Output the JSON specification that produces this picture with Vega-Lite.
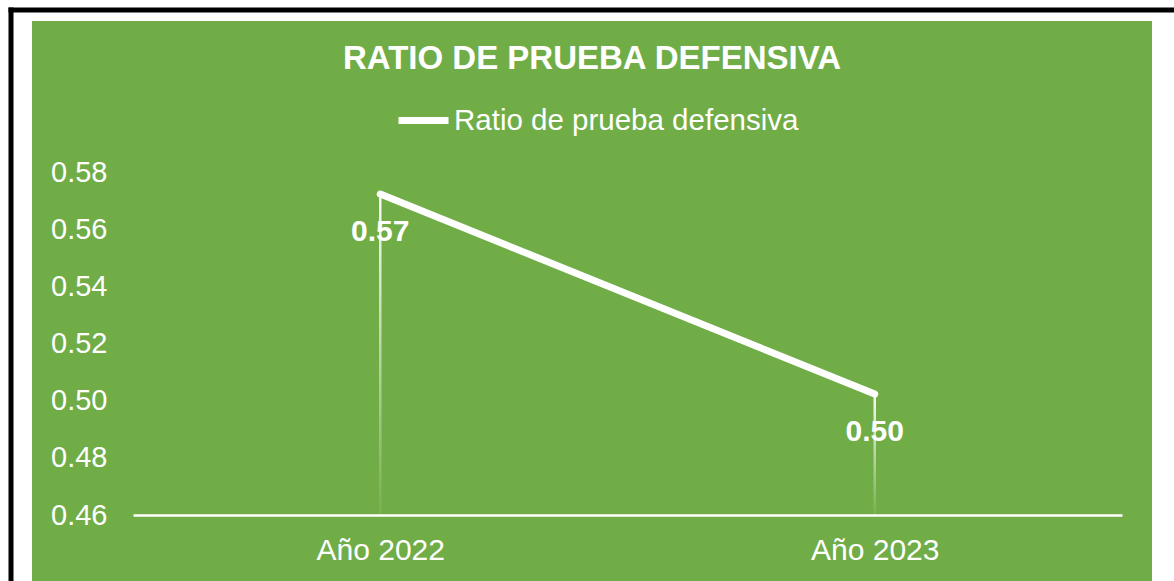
{
  "$schema": "https://vega.github.io/schema/vega-lite/v6.json",
  "width": 1120,
  "height": 560,
  "autosize": {"type": "none"},
  "padding": {"left": 32, "top": 21, "right": 22, "bottom": 0},
  "background": "#ffffff",
  "config": {
    "view": {"fill": "#70AD47", "stroke": null},
    "font": "Liberation Sans"
  },
  "title": {
    "text": "RATIO DE PRUEBA DEFENSIVA",
    "font": "Liberation Sans",
    "fontSize": 33,
    "fontWeight": "bold",
    "color": "#ffffff",
    "anchor": "middle",
    "frame": "group",
    "baseline": "alphabetic",
    "offset": -92
  },
  "data": {
    "values": [
      {"year": "Año 2022", "value": 0.5723, "series": "Ratio de prueba defensiva", "base": 0.46},
      {"year": "Año 2023", "value": 0.5023, "series": "Ratio de prueba defensiva", "base": 0.46}
    ]
  },
  "resolve": {"scale": {"x": "independent", "y": "independent"}, "axis": {"x": "independent", "y": "independent"}},
  "layer": [
    {
      "encoding": {
        "x": {
          "field": "year",
          "type": "nominal",
          "sort": null,
          "title": null,
          "scale": {"type": "point", "range": [101, 1090], "padding": 0.5},
          "axis": {
            "orient": "bottom",
            "offset": -66,
            "domainColor": "#ffffff",
            "domainWidth": 2.5,
            "ticks": false,
            "grid": false,
            "labelAngle": 0,
            "labelColor": "#ffffff",
            "labelFont": "Liberation Sans",
            "labelFontSize": 30,
            "labelPadding": 20
          }
        },
        "y": {
          "field": "value",
          "type": "quantitative",
          "title": null,
          "scale": {"domain": [0.46, 0.58], "range": [494, 151], "zero": false, "nice": false},
          "axis": {
            "orient": "left",
            "offset": -75,
            "values": [0.46, 0.48, 0.5, 0.52, 0.54, 0.56, 0.58],
            "format": ".2f",
            "domain": false,
            "ticks": false,
            "grid": false,
            "labelColor": "#ffffff",
            "labelFont": "Liberation Sans",
            "labelFontSize": 29,
            "labelPadding": 0
          }
        }
      },
      "layer": [
        {
          "mark": {
            "type": "bar",
            "size": 2.5,
            "fill": {
              "gradient": "linear",
              "x1": 0, "y1": 0, "x2": 0, "y2": 1,
              "stops": [
                {"offset": 0, "color": "rgba(255,255,255,0.95)"},
                {"offset": 1, "color": "rgba(255,255,255,0.05)"}
              ]
            }
          },
          "encoding": {
            "y2": {"field": "base"}
          }
        },
        {
          "mark": {"type": "line", "strokeWidth": 7, "strokeCap": "round", "strokeJoin": "round"},
          "encoding": {
            "color": {
              "field": "series",
              "type": "nominal",
              "scale": {"range": ["#ffffff"]},
              "legend": {
                "title": null,
                "orient": "none",
                "legendX": 363,
                "legendY": 71,
                "padding": 0,
                "symbolType": "stroke",
                "symbolSize": 2500,
                "symbolStrokeWidth": 7,
                "symbolStrokeColor": "#ffffff",
                "labelColor": "#ffffff",
                "labelFont": "Liberation Sans",
                "labelFontSize": 29.5,
                "labelOffset": 2,
                "labelLimit": 600
              }
            }
          }
        },
        {
          "mark": {
            "type": "text",
            "dy": 38,
            "baseline": "middle",
            "align": "center",
            "font": "Liberation Sans",
            "fontSize": 30,
            "fontWeight": "bold",
            "color": "#ffffff"
          },
          "encoding": {
            "text": {"field": "value", "type": "quantitative", "format": ".2f"}
          }
        }
      ]
    },
    {
      "mark": {"type": "point", "opacity": 0},
      "encoding": {
        "x": {
          "field": "year",
          "type": "nominal",
          "title": null,
          "scale": {"type": "point", "range": [-24, 1142], "padding": 0.5},
          "axis": {
            "orient": "top",
            "offset": 11.5,
            "domainColor": "#000000",
            "domainWidth": 5,
            "ticks": false,
            "labels": false,
            "grid": false
          }
        },
        "y": {
          "field": "value",
          "type": "quantitative",
          "title": null,
          "scale": {"domain": [0.46, 0.58], "range": [560, -14], "zero": false, "nice": false},
          "axis": {
            "orient": "left",
            "offset": 21.5,
            "domainColor": "#000000",
            "domainWidth": 5,
            "ticks": false,
            "labels": false,
            "grid": false
          }
        }
      }
    }
  ]
}
